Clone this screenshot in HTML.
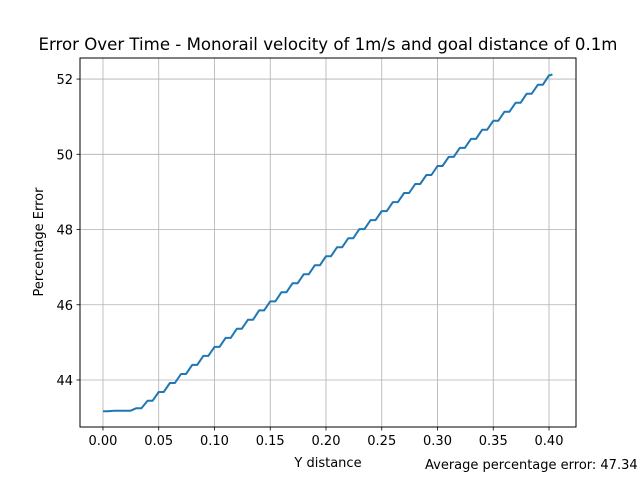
<!DOCTYPE html>
<html><head><meta charset="utf-8"><style>
body{margin:0;background:#fff;overflow:hidden;}
svg{font-family:"DejaVu Sans","Liberation Sans",sans-serif;display:block;}
</style></head><body>
<svg id="chart" width="640" height="480">
<rect width="640" height="480" fill="#fff"/>
<g id="grid"></g>
<g id="ticks"></g>
<rect x="80" y="58" width="496" height="369" fill="none" stroke="#000" stroke-width="1"/>
<text x="328" y="50" font-size="16.6" text-anchor="middle">Error Over Time - Monorail velocity of 1m/s and goal distance of 0.1m</text>
<text x="328" y="467" font-size="13" text-anchor="middle">Y distance</text>
<text x="43" y="242" font-size="13" text-anchor="middle" transform="rotate(-90 43 242)">Percentage Error</text>
<text x="425" y="469" font-size="13">Average percentage error: 47.34</text>
<path id="line" fill="none" stroke="#1f77b4" stroke-width="2" stroke-linejoin="round"/>
</svg>
<script>
const xTicks=[0,0.05,0.1,0.15,0.2,0.25,0.3,0.35,0.4];
const xTickLabels=["0.00","0.05","0.10","0.15","0.20","0.25","0.30","0.35","0.40"];
const yTicks=[44,46,48,50,52];
const yTickLabels=["44","46","48","50","52"];
const xVals=[0,0.01,0.02,0.03,0.04,0.05,0.06,0.07,0.08,0.09,0.1,0.11,0.12,0.13,0.14,0.15,0.16,0.17,0.18,0.19,0.2,0.21,0.22,0.23,0.24,0.25,0.26,0.27,0.28,0.29,0.3,0.31,0.32,0.33,0.34,0.35,0.36,0.37,0.38,0.39,0.4,0.403];
const errVals=[43.17,43.18,43.18,43.25,43.45,43.68,43.92,44.16,44.4,44.64,44.88,45.12,45.36,45.6,45.85,46.09,46.33,46.57,46.81,47.05,47.29,47.53,47.77,48.01,48.25,48.49,48.73,48.97,49.21,49.45,49.69,49.93,50.17,50.41,50.65,50.89,51.13,51.37,51.61,51.85,52.1,52.13];
const X0=-0.0206,X1=0.4242,Y0=42.75,Y1=52.56;
const sx=v=>80+(v-X0)/(X1-X0)*496;
const sy=v=>427-(v-Y0)/(Y1-Y0)*369;
const NS="http://www.w3.org/2000/svg";
const grid=document.getElementById('grid'),ticks=document.getElementById('ticks');
function mk(tag,attrs,parent){const e=document.createElementNS(NS,tag);for(const k in attrs)e.setAttribute(k,attrs[k]);parent.appendChild(e);return e;}
xTicks.forEach((t,i)=>{const x=sx(t);
 const g=mk('line',{x1:x,x2:x,y1:58,y2:427,stroke:'#b0b0b0','stroke-width':0.8},grid);
 
 
 const tk=mk('line',{x1:x,x2:x,y1:427,y2:430.5,stroke:'#000','stroke-width':0.8},ticks);
 
 
 const tl=mk('text',{x:x,y:445,'font-size':13,'text-anchor':'middle'},ticks);tl.textContent=xTickLabels[i];
 
 
});
yTicks.forEach((t,i)=>{const y=sy(t);
 const g=mk('line',{x1:80,x2:576,y1:y,y2:y,stroke:'#b0b0b0','stroke-width':0.8},grid);
 
 
 const tk=mk('line',{x1:76.5,x2:80,y1:y,y2:y,stroke:'#000','stroke-width':0.8},ticks);
 
 
 const tl=mk('text',{x:73,y:y+5,'font-size':13,'text-anchor':'end'},ticks);tl.textContent=yTickLabels[i];
 
 
});
let d='';
for(let i=0;i<xVals.length;i++){
 const x=sx(xVals[i]),y=sy(errVals[i]);
 d+=(i?'L':'M')+x.toFixed(1)+','+y.toFixed(1);
 if(i<xVals.length-1){const xn=sx(xVals[i]+(xVals[i+1]-xVals[i])*0.45);d+='L'+xn.toFixed(1)+','+y.toFixed(1);}
}
document.getElementById('line').setAttribute('d',d);
</script>
</body></html>
